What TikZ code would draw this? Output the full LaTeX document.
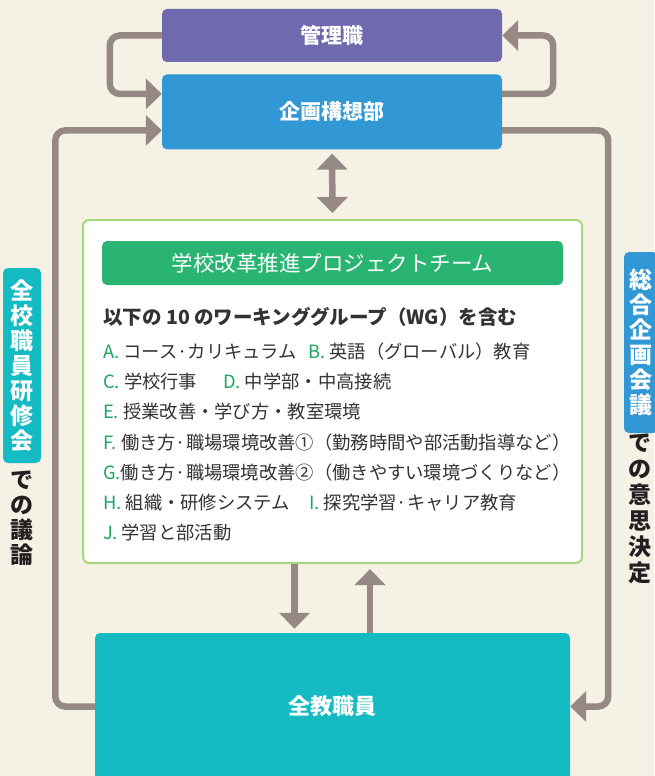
\documentclass[tikz,border=0pt]{standalone}
\usepackage{fontspec}
\setmainfont{Noto Sans CJK JP}
\usetikzlibrary{arrows.meta,positioning}
\definecolor{bgcream}{RGB}{245,241,228}
\definecolor{kanripurple}{RGB}{111,105,174}
\definecolor{kikakublue}{RGB}{49,152,213}
\definecolor{wggreen}{RGB}{41,181,113}
\definecolor{wgframe}{RGB}{168,214,123}
\definecolor{zenteal}{RGB}{21,187,195}
\definecolor{flowgray}{RGB}{150,137,133}
\definecolor{keygreen}{RGB}{26,168,94}
\definecolor{textgray}{RGB}{51,51,51}
\definecolor{labelblack}{RGB}{35,31,32}
\newcommand{\wgkey}[1]{\textcolor{keygreen}{#1}}
\tikzset{
  color box/.style={
    fill=#1,
    rounded corners=5pt,
    text=white,
    inner sep=0pt,
    font=\bfseries\fontsize{21}{21}\selectfont,
  },
  flow/.style={
    draw=flowgray,
    line width=6.5pt,
    rounded corners=10pt,
    ->,
  },
  wg item/.style={
    anchor=base west,
    inner sep=0pt,
    text=textgray,
    font=\fontsize{18.3}{18.3}\selectfont,
  },
  side box/.style={
    fill=#1,
    rounded corners=5pt,
    text=white,
    align=center,
    inner sep=0pt,
    font=\bfseries\fontsize{23}{25}\selectfont,
  },
  side note/.style={
    align=center,
    inner sep=0pt,
    text=labelblack,
    font=\bfseries\fontsize{23}{#1}\selectfont,
  }
}

\begin{document}
\begin{tikzpicture}[x=1pt, y=-1pt, node distance=12pt, >={Triangle[width=30pt,length=16pt]}]
        \fill [bgcream] (0,0) rectangle (654,776);
        \useasboundingbox (0,0) rectangle (654,776);

        \node [color box=kanripurple, minimum width=340pt, minimum height=53pt] (kanri) at (332,35.5) {管理職};
        \node [color box=kikakublue, minimum width=340pt, minimum height=75pt, below=of kanri] (kikaku) {企画構想部};

        \node [draw=wgframe, line width=2pt, fill=white, rounded corners=6pt, minimum width=499pt, minimum height=343pt] (wg) at (332.5,391.5) {};
        \node [color box=wggreen, minimum width=461pt, minimum height=44pt, font=\fontsize{21.5}{21.5}\selectfont] (wgtitle) at (332.5,263) {学校改革推進プロジェクトチーム};
        \node [wg item, font=\bfseries\fontsize{19.5}{19.5}\selectfont] (wghead) at (103,324) {以下の 10 のワーキンググループ（WG）を含む};
        \node [wg item] (wga) at (103,358) {\wgkey{A.} コース·カリキュラム};
        \node [wg item] (wgb) at (308,358) {\wgkey{B.} 英語（グローバル）教育};
        \node [wg item] (wgc) at (103,388) {\wgkey{C.} 学校行事};
        \node [wg item] (wgd) at (223,388) {\wgkey{D.} 中学部・中高接続};
        \node [wg item] (wge) at (103,418) {\wgkey{E.} 授業改善・学び方・教室環境};
        \node [wg item] (wgf) at (103,449) {\wgkey{F.} 働き方·職場環境改善①（勤務時間や部活動指導など）};
        \node [wg item] (wgg) at (103,479) {\wgkey{G.}働き方·職場環境改善②（働きやすい環境づくりなど）};
        \node [wg item] (wgh) at (103,509) {\wgkey{H.} 組織・研修システム};
        \node [wg item] (wgi) at (309,509) {\wgkey{I.} 探究学習·キャリア教育};
        \node [wg item] (wgj) at (103,539) {\wgkey{J.} 学習と部活動};

        \node [color box=zenteal, minimum width=475pt, minimum height=147pt, font=\bfseries\fontsize{22}{22}\selectfont] (zenkyo) at (332.5,706.5) {全教職員};

        \node [side box=zenteal, minimum width=38pt, minimum height=195pt] (kenshu) at (22,365.5) {全\\校\\職\\員\\研\\修\\会};
        \node [side note=25] (giron) at (22,518) {で\\の\\議\\論};
        \node [side box=kikakublue, minimum width=34pt, minimum height=181pt] (sogo) at (641,342.5) {総\\合\\企\\画\\会\\議};
        \node [side note=26] (kettei) at (640,509) {で\\の\\意\\思\\決\\定};

        % loops round the two top boxes
        \draw [flow] (kanri.west) -- ++(-52,0) |- ([yshift=18pt]kikaku.west);
        \draw [flow] ([yshift=18pt]kikaku.east) -- ++(51,0) |- (kanri.east);
        % outer loop through all staff
        \draw [flow] (zenkyo.west) -- ++(-39.5,0) |- ([yshift=-18.5pt]kikaku.west);
        \draw [flow] ([yshift=-18.5pt]kikaku.east) -- ++(106,0) |- (zenkyo.east);

        \draw [flow, <->, shorten <=4pt, shorten >=6pt] (kikaku.south) -- (wg.north);
        \draw [flow, shorten >=4pt] ([xshift=-38pt]wg.south) -- ([xshift=-38pt]zenkyo.north);
        \draw [flow, shorten >=5pt] ([xshift=37.5pt]zenkyo.north) -- ([xshift=37.5pt]wg.south);
    \end{tikzpicture}
\end{document}
